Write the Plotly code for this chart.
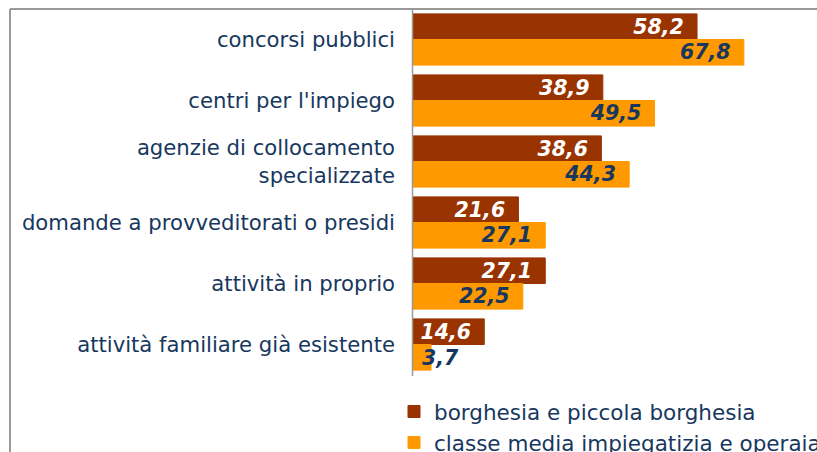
import plotly.graph_objects as go

# Canali di ricerca del lavoro per classe sociale (valori percentuali)
categorie = [
    "concorsi pubblici",
    "centri per l'impiego",
    "agenzie di collocamento<br>specializzate",
    "domande a provveditorati o presidi",
    "attività in proprio",
    "attività familiare già esistente",
]
borghesia = [58.2, 38.9, 38.6, 21.6, 27.1, 14.6]
classe_media = [67.8, 49.5, 44.3, 27.1, 22.5, 3.7]
nomi_serie = ["borghesia e piccola borghesia", "classe media impiegatizia e operaia"]

W, H = 817, 452
ML, MR, MT, MB = 413, 0, 9, 77
PW, PH = W - ML - MR, H - MT - MB

BLU = "#17375E"
FONT = "DejaVu Sans"
PAD = "\u2002"
SOGLIA = 8  # sotto questo valore l'etichetta non entra nella barra
TXT = 20.5


def px_x(p):
    return (p - ML) / PW


def px_y(p):
    return (H - MB - p) / PH


def etichetta(v):
    return f"{v:.1f}".replace(".", ",")


label_font = dict(family=FONT, size=TXT, weight="bold", style="italic")

fig = go.Figure()
fig.add_trace(go.Bar(
    y=categorie, x=borghesia, orientation="h", name=nomi_serie[0],
    legendgroup="a",
    marker=dict(color="#993300", line=dict(color="#993300", width=1)),
    text=[etichetta(v) + PAD if v >= SOGLIA else "" for v in borghesia],
    textposition="inside", textangle=0, insidetextanchor="end",
    textfont=dict(label_font, color="white"),
))
fig.add_trace(go.Bar(
    y=categorie, x=classe_media, orientation="h", name=nomi_serie[1],
    legendgroup="b",
    marker=dict(color="#FF9900", line=dict(color="#FF9900", width=1)),
    text=[etichetta(v) + PAD if v >= SOGLIA else "" for v in classe_media],
    textposition="inside", textangle=0, insidetextanchor="end",
    textfont=dict(label_font, color=BLU),
))

# etichette dei valori troppo piccoli: scritte a partire dalla base della barra
annotazioni = []
for serie, spost, colore in ((borghesia, 13, "white"), (classe_media, -13, BLU)):
    for cat, v in zip(categorie, serie):
        if v < SOGLIA:
            annotazioni.append(dict(
                x=v, y=cat, xref="x", yref="y", text=etichetta(v),
                showarrow=False, xanchor="left", xshift=-11, yshift=spost,
                font=dict(label_font, color=colore),
            ))

fig.update_layout(
    width=W, height=H,
    margin=dict(l=ML, r=MR, t=MT, b=MB, pad=0, autoexpand=False),
    paper_bgcolor="white", plot_bgcolor="white",
    separators=",.",
    barmode="group", bargap=0.16, bargroupgap=0,
    uniformtext=dict(mode="show", minsize=TXT),
    font=dict(family=FONT, size=20, color=BLU),
    showlegend=True,
    legend=dict(
        x=px_x(394), y=px_y(391), xanchor="left", yanchor="top",
        font=dict(family=FONT, size=21.5, color=BLU),
        tracegroupgap=0, traceorder="grouped",
        bgcolor="rgba(0,0,0,0)",
    ),
    xaxis=dict(range=[0, PW / 4.88], visible=False, fixedrange=True),
    yaxis=dict(
        autorange="reversed", showgrid=False, zeroline=False,
        showline=False, ticks="", ticklabelstandoff=17,
        tickfont=dict(family=FONT, size=21.2, color=BLU),
    ),
    annotations=annotazioni,
    shapes=[
        # cornice grigia attorno al grafico
        dict(type="line", xref="paper", yref="paper",
             x0=px_x(10), x1=px_x(W + 5), y0=px_y(9), y1=px_y(9),
             line=dict(color="#999999", width=2)),
        dict(type="line", xref="paper", yref="paper",
             x0=px_x(10), x1=px_x(10), y0=px_y(9), y1=px_y(H + 5),
             line=dict(color="#999999", width=2)),
        # asse verticale delle categorie
        dict(type="line", xref="paper", yref="paper",
             x0=px_x(412.5), x1=px_x(412.5), y0=px_y(10), y1=px_y(376),
             line=dict(color="#999999", width=1.5)),
    ],
)

fig.write_html("out.html")
